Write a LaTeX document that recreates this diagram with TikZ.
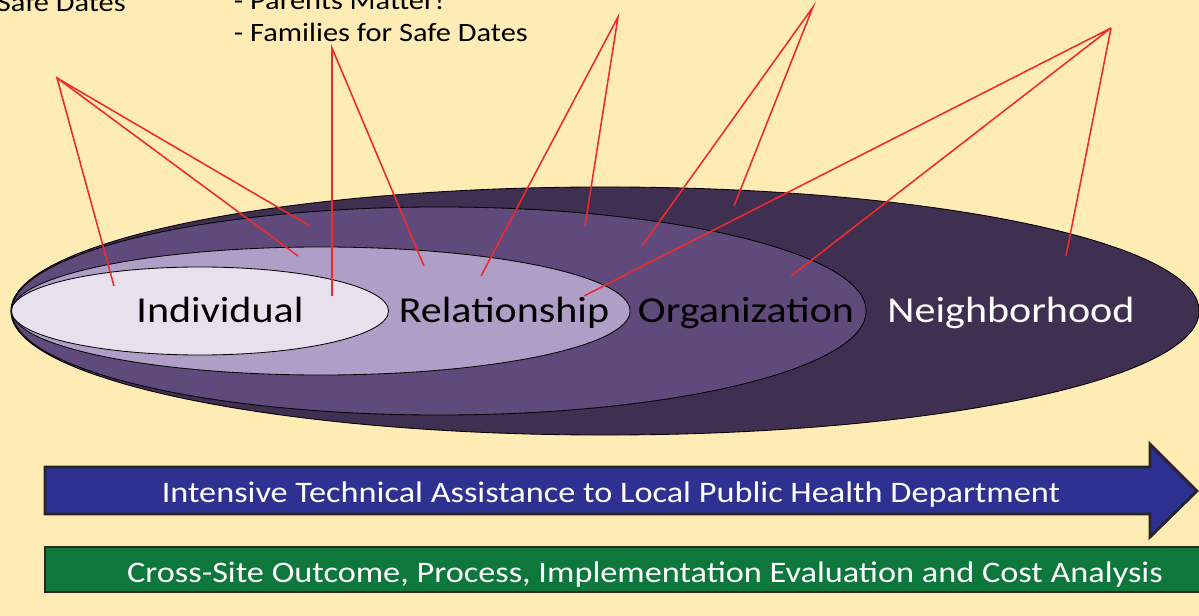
\documentclass[tikz,border=0pt]{standalone}
\usepackage{fontspec}
\setmainfont{Carlito}[FakeStretch=1.15]
\usepackage{tikz}
\usetikzlibrary{shapes.geometric}

\definecolor{bgyellow}{HTML}{FFECB4}
\definecolor{nbhdcol}{HTML}{3F3051}
\definecolor{orgcol}{HTML}{5F4A7B}
\definecolor{relcol}{HTML}{AF9FC6}
\definecolor{indcol}{HTML}{E7E1EE}
\definecolor{tablue}{HTML}{2E3192}
\definecolor{evalgreen}{HTML}{0E773C}
\definecolor{pointer}{HTML}{EE2A2A}

\begin{document}
\begin{tikzpicture}[x=0.025cm, y=-0.025cm,
    level/.style={ellipse, draw=black, line width=0.6pt, inner sep=0pt},
    levellabel/.style={anchor=base, font=\fontsize{26}{31}\selectfont},
    toptext/.style={anchor=base west, font=\fontsize{18.8}{22}\selectfont},
    bartext/.style={anchor=base, text=white, font=\fontsize{21.2}{25}\selectfont},
    pointerline/.style={draw=pointer, line width=1.1pt}]
        \clip (0,0) rectangle (1199,616);
        \fill[bgyellow] (0,0) rectangle (1199,616);

        \node[level, fill=nbhdcol, minimum width=29.7cm, minimum height=6.2cm] (nbhd) at (605,311) {};
        \node[level, fill=orgcol, minimum width=21.35cm, minimum height=5.2cm] (org) at (439,311) {};
        \node[level, fill=relcol, minimum width=15.45cm, minimum height=3.2cm] (rel) at (321,311) {};
        \node[level, fill=indcol, minimum width=9.425cm, minimum height=2.2cm] (ind) at (200,311) {};

        \node[levellabel] (indlbl) at (220,323) {Individual};
        \node[levellabel] (rellbl) at (504,323) {Relationship};
        \node[levellabel] (orglbl) at (746,323) {Organization};
        \node[levellabel, text=white] (nbhdlbl) at (1011,323) {Neighborhood};

        \node[toptext] (safedates) at (-8,12) {Safe Dates};
        \node[toptext] (parents) at (229,10) {- Parents Matter!};
        \node[toptext] (families) at (229,42) {- Families for Safe Dates};

        \coordinate (tipA) at (57,78);
        \coordinate (tipB) at (332,48);
        \coordinate (tipC) at (618,17);
        \coordinate (tipD) at (813,7);
        \coordinate (tipE) at (1111,28);
        \coordinate (a1) at (114,286);
        \coordinate (a2) at (298,256);
        \coordinate (a3) at (310,226);
        \coordinate (b1) at (332,296);
        \coordinate (b2) at (424,266);
        \coordinate (c1) at (481,276);
        \coordinate (c2) at (585,226);
        \coordinate (d1) at (642,246);
        \coordinate (d2) at (734,206);
        \coordinate (e1) at (584,296);
        \coordinate (e2) at (791,276);
        \coordinate (e3) at (1066,256);

        \draw[pointerline] (a1) -- (tipA) -- (a2);
        \draw[pointerline] (tipA) -- (a3);
        \draw[pointerline] (b1) -- (tipB) -- (b2);
        \draw[pointerline] (c1) -- (tipC) -- (c2);
        \draw[pointerline] (d1) -- (tipD) -- (d2);
        \draw[pointerline] (e1) -- (tipE) -- (e2);
        \draw[pointerline] (tipE) -- (e3);

        \draw[fill=tablue, draw=black!85, line width=2pt, line join=miter]
            (45,467) -- (1150,467) -- (1150,444) -- (1197,491) -- (1150,537)
            -- (1150,514) -- (45,514) -- cycle;
        \node[bartext] (talbl) at (611,502) {Intensive Technical Assistance to Local Public Health Department};

        \draw[fill=evalgreen, draw=black!85, line width=2pt] (45,547) rectangle (1215,592);
        \node[bartext] (evallbl) at (645,582) {Cross-Site Outcome, Process, Implementation Evaluation and Cost Analysis};
\end{tikzpicture}
\end{document}
